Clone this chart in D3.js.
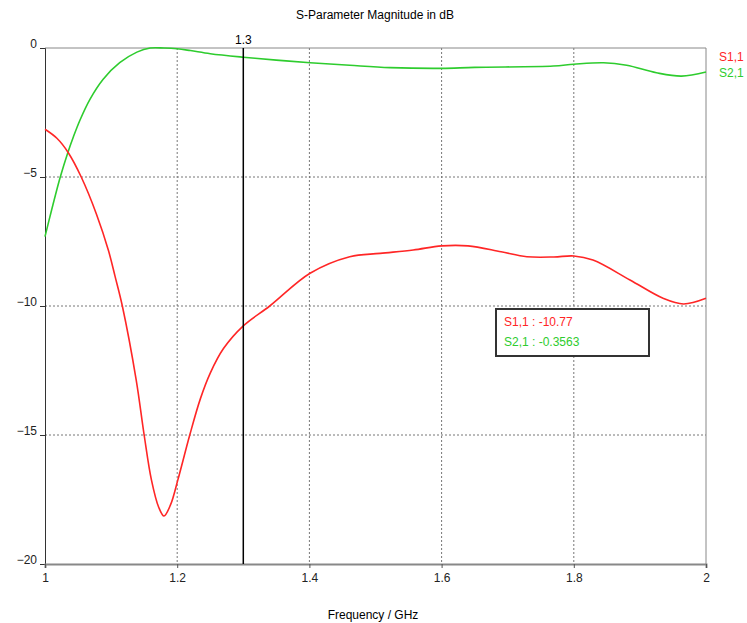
<!DOCTYPE html>
<html>
<head>
<meta charset="utf-8">
<script src="https://cdn.jsdelivr.net/npm/d3@7"></script>
<style>
  body { margin: 0; background: #fff; }
  text { font-family: "Liberation Sans", "DejaVu Sans", sans-serif; }
  .grid line { stroke: #777; stroke-dasharray: 2,2; }
</style>
</head>
<body>
<div id="graphic"></div>
<script>
// S-parameters (frequency in GHz, magnitude in dB)
const s11Freq = [1.000, 1.018, 1.035, 1.055, 1.078, 1.096, 1.106, 1.117, 1.138, 1.150, 1.161, 1.172, 1.180,
  1.190, 1.201, 1.219, 1.235, 1.250, 1.270, 1.300, 1.340, 1.401, 1.461, 1.507, 1.557, 1.600, 1.640,
  1.690, 1.729, 1.770, 1.800, 1.829, 1.885, 1.935, 1.966, 2.000];
const s11Db = [-3.15, -3.5, -4.05, -5.01, -6.45, -7.85, -8.85, -10.0, -12.87, -15.0, -16.74, -17.8, -18.14,
  -17.7, -16.74, -15.0, -13.6, -12.6, -11.65, -10.77, -10.0, -8.73, -8.09, -7.96, -7.83, -7.67, -7.67,
  -7.9, -8.09, -8.1, -8.06, -8.22, -8.99, -9.70, -9.92, -9.70];

const s21Freq = [1.000, 1.010, 1.023, 1.035, 1.043, 1.053, 1.068, 1.088, 1.113, 1.139, 1.159, 1.180, 1.200,
  1.220, 1.250, 1.300, 1.350, 1.401, 1.461, 1.522, 1.600, 1.650, 1.769, 1.800, 1.845, 1.880, 1.925, 1.963, 2.000];
const s21Db = [-7.31, -6.28, -5.01, -4.02, -3.44, -2.79, -1.99, -1.21, -0.57, -0.16, 0.0, 0.0, -0.03,
  -0.1, -0.22, -0.356, -0.47, -0.57, -0.67, -0.76, -0.79, -0.75, -0.70, -0.63, -0.57, -0.67, -0.96, -1.09, -0.93];

const xTicks = [1, 1.2, 1.4, 1.6, 1.8, 2];
const yTicks = [0, -5, -10, -15, -20];
const markerFreq = 1.3;
const readout = [{ name: "S1,1", value: "-10.77" }, { name: "S2,1", value: "-0.3563" }];

const red = "#ff2626", green = "#2ecc2e";

const margin = { left: 45, right: 41, top: 48, bottom: 59 };
const outerWidth = 747, outerHeight = 623;
const width = outerWidth - margin.left - margin.right;
const height = outerHeight - margin.top - margin.bottom;

const svg = d3.select("#graphic").append("svg")
  .attr("width", outerWidth)
  .attr("height", outerHeight);

const x = d3.scaleLinear().domain([1, 2]).range([0, width]);
const y = d3.scaleLinear().domain([-20, 0]).range([height, 0]);

svg.append("text")
  .attr("x", 375).attr("y", 19)
  .attr("text-anchor", "middle")
  .attr("font-size", 12)
  .text("S-Parameter Magnitude in dB");

const plot = svg.append("g")
  .attr("transform", `translate(${margin.left}, ${margin.top})`);

// grid lines
plot.append("g").attr("class", "grid")
  .selectAll("line")
  .data(xTicks.slice(1, -1))
  .enter().append("line")
  .attr("x1", d => x(d)).attr("x2", d => x(d))
  .attr("y1", 0).attr("y2", height)
  .attr("stroke", "#888");

plot.append("g").attr("class", "grid")
  .selectAll("line")
  .data(yTicks.slice(1, -1))
  .enter().append("line")
  .attr("x1", 0).attr("x2", width)
  .attr("y1", d => y(d)).attr("y2", d => y(d))
  .attr("stroke", "#444");

// frame
plot.append("line").attr("x1", 0).attr("x2", width).attr("y1", 0).attr("y2", 0)
  .attr("stroke", "#888");
plot.append("line").attr("x1", width).attr("x2", width).attr("y1", 0).attr("y2", height)
  .attr("stroke", "#888");

// axes
const yAxis = d3.axisLeft(y).tickValues(yTicks).tickSize(5).tickFormat(d3.format("d"));
const xAxis = d3.axisBottom(x).tickValues(xTicks).tickSize(4).tickFormat(d => d);

const gy = plot.append("g").attr("class", "axis yaxis").call(yAxis);
gy.select(".domain").attr("stroke", "#333");
gy.selectAll(".tick line").attr("stroke", "#333");
gy.selectAll(".tick text").attr("font-size", 12).attr("dy", "-0.05em").attr("fill", "#222");

const gx = plot.append("g").attr("class", "axis xaxis")
  .attr("transform", `translate(0, ${height})`)
  .call(xAxis);
gx.select(".domain").attr("stroke", "#888").attr("stroke-width", 2);
gx.selectAll(".tick line").attr("stroke", "#555");
gx.selectAll(".tick text").attr("font-size", 12).attr("dy", "0.9em").attr("fill", "#222");

svg.append("text")
  .attr("x", 373).attr("y", 619)
  .attr("text-anchor", "middle")
  .attr("font-size", 12)
  .text("Frequency / GHz");

// curves
const line = d3.line()
  .x(d => x(d[0]))
  .y(d => y(d[1]))
  .curve(d3.curveCatmullRom.alpha(0.5));

plot.append("path")
  .datum(d3.zip(s21Freq, s21Db))
  .attr("fill", "none").attr("stroke", green).attr("stroke-width", 1.6)
  .attr("d", line);

plot.append("path")
  .datum(d3.zip(s11Freq, s11Db))
  .attr("fill", "none").attr("stroke", red).attr("stroke-width", 1.6)
  .attr("d", line);

// marker
plot.append("line")
  .attr("x1", x(markerFreq)).attr("x2", x(markerFreq))
  .attr("y1", 0).attr("y2", height)
  .attr("stroke", "#000").attr("stroke-width", 1.5);
plot.append("text")
  .attr("x", x(markerFreq)).attr("y", -4)
  .attr("text-anchor", "middle")
  .attr("font-size", 12)
  .text(markerFreq);

// legend at right
svg.selectAll(".legend")
  .data(["S1,1", "S2,1"])
  .enter().append("text")
  .attr("class", "legend")
  .attr("x", 719)
  .attr("y", (d, i) => 61 + i * 16)
  .attr("font-size", 12)
  .attr("fill", (d, i) => i === 0 ? red : green)
  .text(d => d);

// readout box
const box = svg.append("g").attr("transform", "translate(496, 309)");
box.append("rect")
  .attr("width", 153).attr("height", 47)
  .attr("fill", "#fff").attr("stroke", "#333").attr("stroke-width", 2);
box.selectAll("text")
  .data(readout)
  .enter().append("text")
  .attr("x", 8)
  .attr("y", (d, i) => 17 + i * 20)
  .attr("font-size", 12)
  .attr("fill", (d, i) => i === 0 ? red : green)
  .text(d => `${d.name} : ${d.value}`);
</script>
</body>
</html>
